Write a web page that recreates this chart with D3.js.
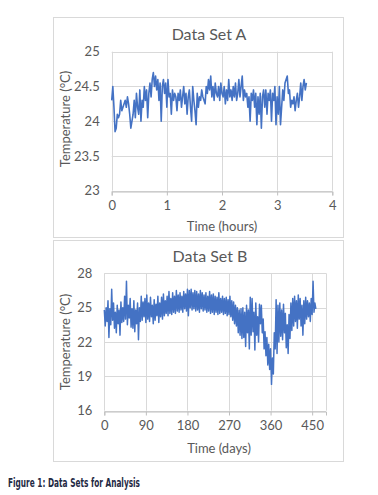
<!DOCTYPE html>
<html>
<head>
<meta charset="utf-8">
<script src="https://cdn.jsdelivr.net/npm/d3@7"></script>
<style>
  body { margin: 0; background: #fff; }
  svg { display: block; }
</style>
</head>
<body>
<div id="chart"></div>
<script>
// Data Set A: temperature (°C), sampled evenly from 0 to ~3.53 hours
var endHoursA = 3.53;
var tempA = [
  24.3, 24.5, 24.2, 23.85, 23.9, 24.1,
  24.05, 24.1, 24.3, 24.15, 24.2, 24.25, 24.3, 24.2, 24.35, 24.25,
  24.1, 23.9, 24.0, 24.1, 24.3, 24.05, 24.4, 24.2, 24.1, 24.45,
  24.0, 24.3, 24.2, 24.5, 24.3, 24.45, 24.05, 24.4, 24.55, 24.35,
  24.6, 24.7, 24.5, 24.65, 24.45, 24.6, 24.3, 24.55, 24.0, 24.5,
  24.6, 24.4, 24.55, 24.2, 24.6, 24.35, 24.4, 24.1, 24.45, 24.3,
  24.4, 24.35, 24.15, 24.4, 24.3, 24.45, 24.2, 24.35, 24.5, 24.25,
  24.4, 24.1, 24.35, 24.45, 24.2, 24.0, 24.5, 24.3, 24.15, 23.95,
  24.4, 24.2, 24.35, 24.3, 24.45, 24.35, 24.3, 24.25, 24.5, 24.4,
  24.6, 24.45, 24.65, 24.35, 24.5, 24.3, 24.55, 24.4, 24.35, 24.5,
  24.3, 24.55, 24.4, 24.35, 24.5, 24.25, 24.45, 24.3, 24.6, 24.35,
  24.45, 24.3, 24.5, 24.35, 24.55, 24.3, 24.4, 24.6, 24.35, 24.5,
  24.65, 24.3, 24.45, 24.35, 24.4, 24.2, 24.35, 24.0, 24.4, 24.3,
  24.45, 24.2, 24.4, 23.95, 24.35, 24.1, 24.4, 23.9, 24.35, 24.45,
  24.2, 24.45, 24.1, 24.4, 24.3, 24.45, 24.0, 24.4, 24.3, 24.5,
  23.95, 24.35, 24.1, 24.5, 23.95, 24.2, 24.45, 24.3, 24.55, 24.6,
  24.65, 24.4, 24.45, 24.2, 24.3, 24.25, 24.35, 24.15, 24.3, 24.4,
  24.2, 24.35, 24.55, 24.3, 24.5, 24.6, 24.45, 24.55
];

// Data Set B: temperature (°C), one reading every 2 days
var stepDaysB = 2;
var tempB = [
  24.8, 23.4, 25.0, 23.8, 25.6, 22.4, 24.9, 23.5, 26.6, 23.9,
  25.4, 23.2, 24.6, 22.8, 25.2, 23.6, 24.8, 22.6, 25.5, 23.7,
  25.0, 23.8, 26.0, 24.0, 27.3, 23.5, 25.2, 24.1, 25.8, 23.3,
  24.9, 23.2, 25.6, 22.9, 24.8, 23.6, 25.4, 22.2, 25.0, 23.8,
  26.0, 23.9, 25.5, 24.2, 25.8, 23.7, 26.1, 24.0, 25.4, 23.8,
  25.9, 24.2, 25.2, 23.6, 25.7, 23.9, 25.3, 24.3, 26.0, 23.7,
  25.4, 24.2, 25.9, 24.0, 26.2, 24.3, 25.6, 24.5, 26.0, 24.3,
  26.4, 24.5, 25.8, 24.4, 26.3, 24.6, 26.0, 24.5, 26.5, 24.7,
  26.1, 24.6, 26.3, 24.8, 26.0, 24.6, 26.4, 24.9, 26.2, 24.7,
  26.6, 24.3, 26.5, 25.0, 26.6, 24.8, 26.3, 24.9, 26.5, 24.7,
  26.4, 24.8, 26.2, 24.6, 26.5, 24.9, 26.3, 24.7, 26.1, 24.8,
  26.3, 24.6, 26.0, 24.7, 26.4, 24.5, 26.1, 24.6, 26.2, 24.4,
  26.0, 24.6, 25.9, 24.4, 26.3, 24.5, 25.8, 24.6, 26.0, 24.4,
  25.8, 24.5, 25.9, 24.3, 25.7, 24.4, 26.0, 24.2, 25.6, 23.9,
  25.5, 23.6, 25.2, 23.4, 25.0, 22.8, 24.8, 22.6, 24.9, 22.3,
  25.0, 22.4, 24.6, 21.6, 25.2, 22.8, 24.8, 21.4, 25.9, 22.6,
  25.8, 22.9, 24.6, 21.3, 25.4, 22.6, 24.2, 22.0, 25.3, 23.6,
  25.2, 22.8, 24.0, 21.4, 22.9, 20.8, 22.4, 20.0, 21.8, 19.6,
  21.4, 18.3, 20.6, 19.2, 22.8, 21.4, 25.7, 21.0, 25.2, 22.0,
  25.4, 22.5, 24.8, 22.2, 25.3, 22.8, 24.5, 21.5, 23.5, 21.0,
  24.4, 22.3, 25.4, 23.0, 25.8, 23.4, 26.0, 23.8, 25.6, 23.2,
  26.1, 24.0, 25.8, 23.4, 25.2, 22.6, 25.6, 23.6, 25.9, 24.0,
  25.6, 24.2, 25.4, 23.8, 25.8, 24.4, 27.3, 24.6, 25.4, 24.9
];

// Axis ticks
var xTicksA = [0, 1, 2, 3, 4];
var yTicksA = [23, 23.5, 24, 24.5, 25];
var xTicksB = [0, 90, 180, 270, 360, 450];
var yTicksB = [16, 19, 22, 25, 28];

var lineColor = "#4472c4";
var gridColor = "#d9d9d9";
var textColor = "#595959";
var font = "Lato, 'Open Sans', sans-serif";

var svg = d3.select("#chart")
    .append("svg")
        .attr("width", 378)
        .attr("height", 495);

// Draw one Excel-style chart panel
function drawPanel(cfg) {
    var g = svg.append("g");

    // outer chart box
    g.append("rect")
        .attr("x", cfg.box[0] + 0.5)
        .attr("y", cfg.box[1] + 0.5)
        .attr("width", cfg.box[2])
        .attr("height", cfg.box[3])
        .attr("fill", "#fff")
        .attr("stroke", gridColor);

    var x = d3.scaleLinear().domain(cfg.xDomain).range([cfg.plot.left, cfg.plot.right]);
    var y = d3.scaleLinear().domain(cfg.yDomain).range([cfg.plot.bottom, cfg.plot.top]);

    // gridlines
    var gridX = cfg.xTicks.concat(cfg.xDomain[1] > cfg.xTicks[cfg.xTicks.length - 1] ? [cfg.xDomain[1]] : []);
    g.append("g").selectAll("line")
        .data(gridX)
        .join("line")
            .attr("x1", d => Math.round(x(d)) + 0.5)
            .attr("x2", d => Math.round(x(d)) + 0.5)
            .attr("y1", cfg.plot.top)
            .attr("y2", cfg.plot.bottom)
            .attr("stroke", gridColor);
    g.append("g").selectAll("line")
        .data(cfg.yTicks)
        .join("line")
            .attr("x1", cfg.plot.left)
            .attr("x2", cfg.plot.right)
            .attr("y1", d => Math.round(y(d)) + 0.5)
            .attr("y2", d => Math.round(y(d)) + 0.5)
            .attr("stroke", gridColor);

    // x axis with small ticks
    var xAxis = d3.axisBottom(x)
        .tickValues(cfg.xTicks)
        .tickSize(4)
        .tickPadding(5)
        .tickFormat(d3.format("d"));
    g.append("g")
        .attr("transform", "translate(0," + (Math.round(cfg.plot.bottom) + 0.5) + ")")
        .call(xAxis)
        .call(a => a.select(".domain").attr("stroke", "#bfbfbf"))
        .call(a => a.selectAll(".tick line").attr("stroke", "#bfbfbf"))
        .call(a => a.selectAll("text")
            .attr("fill", textColor)
            .style("font", "13px " + font));

    // y axis labels only
    var yAxis = d3.axisLeft(y)
        .tickValues(cfg.yTicks)
        .tickSize(0)
        .tickPadding(cfg.yPad)
        .tickFormat(d => d);
    g.append("g")
        .attr("transform", "translate(" + cfg.plot.left + ",0)")
        .call(yAxis)
        .call(a => a.select(".domain").remove())
        .call(a => a.selectAll("text")
            .attr("fill", textColor)
            .style("font", "13px " + font));

    // series line
    var n = cfg.values.length;
    var line = d3.line()
        .x((d, i) => x(cfg.time(i, n)))
        .y(d => y(d));
    g.append("path")
        .datum(cfg.values)
        .attr("fill", "none")
        .attr("stroke", lineColor)
        .attr("stroke-width", cfg.lineWidth)
        .attr("stroke-linejoin", "round")
        .attr("d", line);

    // titles
    g.append("text")
        .attr("x", cfg.titlePos[0])
        .attr("y", cfg.titlePos[1])
        .attr("text-anchor", "middle")
        .attr("fill", textColor)
        .style("font", "16px " + font)
        .text(cfg.title);
    g.append("text")
        .attr("x", cfg.xTitlePos[0])
        .attr("y", cfg.xTitlePos[1])
        .attr("text-anchor", "middle")
        .attr("fill", textColor)
        .style("font", "13px " + font)
        .text(cfg.xTitle);
    g.append("text")
        .attr("transform", "translate(" + cfg.yTitlePos[0] + "," + cfg.yTitlePos[1] + ") rotate(-90)")
        .attr("text-anchor", "middle")
        .attr("dy", "0.35em")
        .attr("fill", textColor)
        .style("font", "13px " + font)
        .text("Temperature (°C)");
}

drawPanel({
    box: [53, 17, 290, 220],
    plot: {left: 111.7, right: 332.3, top: 51.7, bottom: 190.7},
    xDomain: [0, 4], yDomain: [23, 25],
    xTicks: xTicksA, yTicks: yTicksA, yPad: 12,
    values: tempA,
    time: (i, n) => i * endHoursA / (n - 1),
    lineWidth: 1.6,
    title: "Data Set A", titlePos: [209, 39.5],
    xTitle: "Time (hours)", xTitlePos: [222, 230.5],
    yTitlePos: [65, 119]
});

drawPanel({
    box: [53, 240, 290, 221],
    plot: {left: 104.3, right: 326, top: 273.3, bottom: 410.7},
    xDomain: [0, 480], yDomain: [16, 28],
    xTicks: xTicksB, yTicks: yTicksB, yPad: 12,
    values: tempB,
    time: (i, n) => i * stepDaysB,
    lineWidth: 1.5,
    title: "Data Set B", titlePos: [210, 262],
    xTitle: "Time (days)", xTitlePos: [219, 453],
    yTitlePos: [65, 342]
});

// Figure caption
svg.append("text")
    .attr("x", 8)
    .attr("y", 487)
    .attr("fill", "#1f2a44")
    .attr("textLength", 132)
    .attr("lengthAdjust", "spacingAndGlyphs")
    .style("font", "600 12.5px 'Liberation Sans Narrow', 'DejaVu Sans Condensed', sans-serif")
    .text("Figure 1: Data Sets for Analysis");
</script>
</body>
</html>
